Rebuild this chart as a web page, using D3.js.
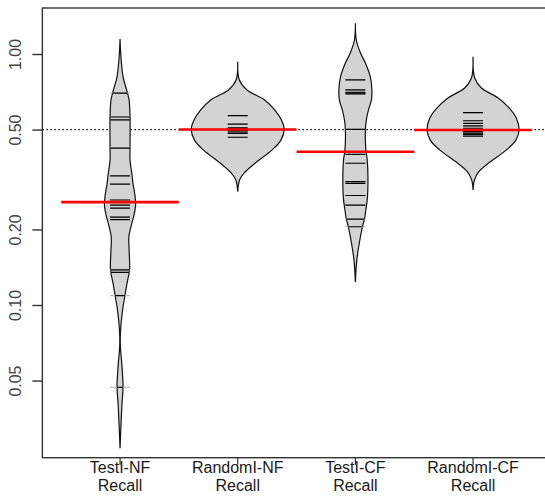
<!DOCTYPE html>
<meta charset="utf-8">
<style>
body { margin: 0; background: #fff; }
svg { display: block; font-family: "Liberation Sans", Arial, sans-serif; }
</style>
<svg width="545" height="496"></svg>
<script src="https://d3js.org/d3.v7.min.js"></script>
<script>

// groups and their observations (recall values)
var categories = ["TestI-NF", "RandomI-NF", "TestI-CF", "RandomI-CF"];
var subLabel = "Recall";

var testNF = [0.699, 0.561, 0.546, 0.422, 0.327, 0.303, 0.262, 0.250, 0.243, 0.224, 0.219, 0.138, 0.135, 0.109, 0.047];
var randomNF = [0.568, 0.526, 0.508, 0.502, 0.495, 0.489, 0.483, 0.466];
var testCF = [0.788, 0.719, 0.704, 0.698, 0.693, 0.501, 0.398, 0.367, 0.310, 0.305, 0.273, 0.250, 0.220, 0.205];
var randomCF = [0.584, 0.542, 0.529, 0.517, 0.506, 0.498, 0.498, 0.491, 0.484, 0.478, 0.471];

// bean outlines: [recall, relative density] (1 = widest bean)
var densTestNF = [[1.148, 0], [1.037, 0.01], [0.921, 0.03], [0.810, 0.065], [0.699, 0.16], [0.656, 0.195],
  [0.561, 0.215], [0.422, 0.215], [0.378, 0.215], [0.327, 0.26], [0.303, 0.28], [0.274, 0.32], [0.250, 0.335],
  [0.228, 0.30], [0.214, 0.26], [0.187, 0.19], [0.166, 0.195], [0.138, 0.205], [0.122, 0.15], [0.109, 0.105],
  [0.0955, 0.055], [0.0795, 0.012], [0.0693, 0.006], [0.0577, 0.04], [0.0471, 0.065], [0.040, 0.04],
  [0.0333, 0.02], [0.0269, 0]];
var densRandomNF = [[0.932, 0], [0.788, 0.035], [0.719, 0.2], [0.656, 0.58], [0.598, 0.8], [0.546, 0.94],
  [0.501, 1.0], [0.454, 0.93], [0.415, 0.74], [0.368, 0.38], [0.336, 0.14], [0.315, 0.04], [0.283, 0]];
var densTestCF = [[1.325, 0], [1.137, 0.02], [1.009, 0.11], [0.921, 0.215], [0.812, 0.32], [0.719, 0.355],
  [0.656, 0.345], [0.598, 0.28], [0.546, 0.235], [0.498, 0.215], [0.415, 0.225], [0.378, 0.255],
  [0.324, 0.27], [0.269, 0.26], [0.239, 0.225], [0.220, 0.195], [0.2045, 0.15], [0.177, 0.085],
  [0.151, 0.03], [0.1235, 0]];
var densRandomCF = [[0.976, 0], [0.802, 0.035], [0.732, 0.18], [0.668, 0.54], [0.609, 0.78], [0.556, 0.93],
  [0.498, 0.99], [0.454, 0.92], [0.415, 0.72], [0.371, 0.36], [0.339, 0.12], [0.315, 0.03], [0.287, 0]];

// bean averages (red) and overall reference line (dotted)
var beanMeans = [0.257, 0.500, 0.408, 0.498];
var overallLine = 0.5;

var yTicks = [0.05, 0.10, 0.20, 0.50, 1.00];

var groups = [testNF, randomNF, testCF, randomCF];
var dens = [densTestNF, densRandomNF, densTestCF, densRandomCF];

var svg = d3.select("svg");

// plot region, R style: x from 0.34 to 4.66 (slots 0.5..4.5 plus 4%)
var x = d3.scaleBand()
    .domain(categories)
    .range([61.2, 531.9])
    .padding(0);
var slot = x.bandwidth();
var boxLeft = x.range()[0] - 0.16 * slot,
    boxRight = x.range()[1] + 0.16 * slot;

var y = d3.scaleLog()
    .domain([0.02464, 1.525])
    .range([457.7, 8]);

var w = d3.scaleLinear().domain([0, 1]).range([0, 0.395 * slot]);
var lineHalf = 10;

function cx(i) { return x(categories[i]) + slot / 2; }

// overall dotted line
svg.append("line")
    .attr("x1", boxLeft).attr("x2", boxRight)
    .attr("y1", y(overallLine)).attr("y2", y(overallLine))
    .attr("stroke", "#000")
    .attr("stroke-width", 1.2)
    .attr("stroke-dasharray", "1.5,2.5");

var defs = svg.append("defs");

groups.forEach(function(vals, i) {
  var c = cx(i);
  var area = d3.area()
      .y(function(p) { return y(p[0]); })
      .x0(function(p) { return c - w(p[1]); })
      .x1(function(p) { return c + w(p[1]); })
      .curve(d3.curveCatmullRom.alpha(0.5));
  var pathStr = area(dens[i]);

  defs.append("clipPath").attr("id", "bean" + i)
    .append("path").attr("d", pathStr);

  var g = svg.append("g");
  g.append("path")
      .attr("d", pathStr)
      .attr("fill", "#d3d3d3")
      .attr("stroke", "#111")
      .attr("stroke-width", 1.2);

  // one line per distinct value, longer when values repeat
  var counts = d3.rollups(vals, function(v) { return v.length; }, function(v) { return v; });

  g.selectAll("line.out")
    .data(counts)
    .join("line")
      .attr("class", "out")
      .attr("x1", function(p) { return c - lineHalf * p[1]; })
      .attr("x2", function(p) { return c + lineHalf * p[1]; })
      .attr("y1", function(p) { return y(p[0]); })
      .attr("y2", function(p) { return y(p[0]); })
      .attr("stroke", "#b8b8b8")
      .attr("stroke-width", 1.2);

  g.append("g").attr("clip-path", "url(#bean" + i + ")")
    .selectAll("line")
    .data(counts)
    .join("line")
      .attr("x1", function(p) { return c - lineHalf * p[1]; })
      .attr("x2", function(p) { return c + lineHalf * p[1]; })
      .attr("y1", function(p) { return y(p[0]); })
      .attr("y2", function(p) { return y(p[0]); })
      .attr("stroke", "#000")
      .attr("stroke-width", 1.2);
});

// bean averages
svg.selectAll("line.mean")
  .data(beanMeans)
  .join("line")
    .attr("class", "mean")
    .attr("x1", function(m, i) { return cx(i) - slot / 2; })
    .attr("x2", function(m, i) { return cx(i) + slot / 2; })
    .attr("y1", function(m) { return y(m); })
    .attr("y2", function(m) { return y(m); })
    .attr("stroke", "#ff0000")
    .attr("stroke-width", 2.6);

// box
svg.append("rect")
    .attr("x", boxLeft).attr("y", y.range()[1])
    .attr("width", boxRight - boxLeft)
    .attr("height", y.range()[0] - y.range()[1])
    .attr("fill", "none")
    .attr("stroke", "#333")
    .attr("stroke-width", 1.4);

// y axis
var yAxis = svg.append("g")
    .attr("transform", "translate(" + boxLeft + ",0)")
    .call(d3.axisLeft(y).tickValues(yTicks).tickFormat(d3.format(".2f")).tickSize(10).tickSizeOuter(0));
yAxis.select(".domain").remove();
yAxis.selectAll(".tick line").attr("stroke", "#333").attr("stroke-width", 1.4);
yAxis.selectAll(".tick text")
    .attr("transform", "rotate(-90)")
    .attr("x", 0).attr("y", -21).attr("dy", null)
    .attr("text-anchor", "middle")
    .attr("fill", "#444")
    .style("font-size", "16px");

// x axis
var xAxis = svg.append("g")
    .attr("transform", "translate(0," + y.range()[0] + ")")
    .call(d3.axisBottom(x).tickSize(7).tickSizeOuter(0));
xAxis.select(".domain").remove();
xAxis.selectAll(".tick line").attr("stroke", "#333").attr("stroke-width", 1.2);
xAxis.selectAll(".tick text").remove();
xAxis.selectAll(".tick").each(function(c) {
  var t = d3.select(this).append("text")
      .attr("text-anchor", "middle")
      .attr("fill", "#1a1a1a")
      .style("font-size", "16px");
  t.append("tspan").attr("x", 0).attr("y", 15.5).text(c);
  t.append("tspan").attr("x", 0).attr("y", 33.5).text(subLabel);
});
</script>
